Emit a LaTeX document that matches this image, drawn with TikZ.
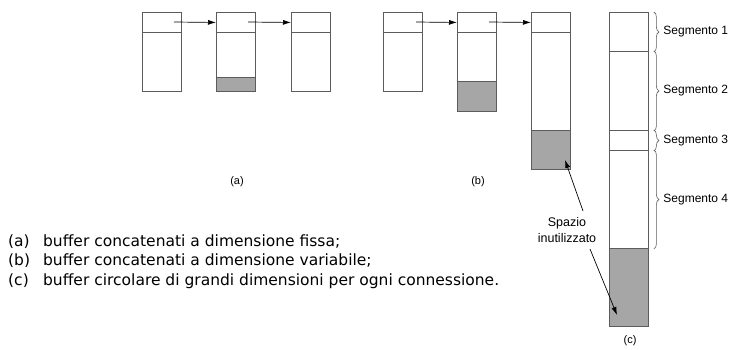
\documentclass[tikz,border=0pt]{standalone}
\usepackage{fontspec}
\setmainfont{Liberation Sans}
\newfontfamily\legendfont{DejaVu Sans}
\usetikzlibrary{arrows.meta,decorations.pathreplacing,positioning}
\definecolor{Edge}{HTML}{5C5C5C}
\definecolor{Waste}{HTML}{A6A6A6}

\begin{document}
\begin{tikzpicture}[x=1pt,y=-1pt,
    cell/.style={draw=Edge,line width=.9pt,minimum width=39pt,inner sep=0pt,anchor=north west},
    hdr/.style={cell,minimum height=20pt},
    used/.style={cell,fill=Waste},
    link/.style={-{Latex[length=8pt,width=5pt]},line width=.7pt},
    seg/.style={decorate,decoration={brace,amplitude=5pt},draw=Edge,line width=.6pt},
    lbl/.style={font=\fontsize{11}{13}\selectfont},
    tag/.style={font=\fontsize{12}{15}\selectfont,anchor=west}]
  \useasboundingbox[fill=white] (0,0) rectangle (733,349);

  % (a) fixed size buffers
  \node[hdr] (a1h) at (142,12) {};
  \node[cell,minimum height=59pt] (a1b) at (142,32) {};
  \node[hdr] (a2h) at (216,12) {};
  \node[cell,minimum height=59pt] (a2b) at (216,32) {};
  \node[used,minimum height=14pt] (a2u) at (216,77) {};
  \node[hdr] (a3h) at (291,12) {};
  \node[cell,minimum height=59pt] (a3b) at (291,32) {};
  \coordinate (a1p) at (174,22);
  \coordinate (a2p) at (248,22);
  \draw[link] (a1p) -- (a2h.west);
  \draw[link] (a2p) -- (a3h.west);
  \node[lbl] (capa) at (237,182) {(a)};

  % (b) variable size buffers
  \node[hdr] (b1h) at (383,12) {};
  \node[cell,minimum height=59pt] (b1b) at (383,32) {};
  \node[hdr] (b2h) at (457,12) {};
  \node[cell,minimum height=79pt] (b2b) at (457,32) {};
  \node[used,minimum height=30pt] (b2u) at (457,81) {};
  \node[hdr] (b3h) at (531,12) {};
  \node[cell,minimum height=137pt] (b3b) at (531,32) {};
  \node[used,minimum height=39pt] (b3u) at (531,130) {};
  \coordinate (b1p) at (416,22);
  \coordinate (b2p) at (489,22);
  \draw[link] (b1p) -- (b2h.west);
  \draw[link] (b2p) -- (b3h.west);
  \node[lbl] (capb) at (478,182) {(b)};

  % (c) one big circular buffer
  \node[cell,minimum height=39pt] (c1) at (609,12) {};
  \node[cell,minimum height=79pt] (c2) at (609,51) {};
  \node[cell,minimum height=20pt] (c3) at (609,130) {};
  \node[cell,minimum height=98pt] (c4) at (609,150) {};
  \node[used,minimum height=78pt] (c5) at (609,248) {};
  \foreach \s in {1,...,4} {
    \draw[seg] ([xshift=5pt]c\s.north east) -- ([xshift=5pt]c\s.south east);
    \node[tag] (seg\s) at ([xshift=11pt]c\s.east) {Segmento \s};
  }
  \node[lbl] (capc) at (630,341) {(c)};

  % wasted space
  \node[align=center,font=\fontsize{12.5}{15.5}\selectfont] (spazio) at (567,230) {Spazio\\inutilizzato};
  \coordinate (holeb) at (565,160);
  \coordinate (holec) at (617,315);
  \coordinate (fromb) at (583,211);
  \coordinate (fromc) at (590,249);
  \draw[link] (fromb) -- (holeb);
  \draw[link] (fromc) -- (holec);

  % legend
  \node[anchor=west,inner sep=0pt,font=\legendfont\fontsize{15.5}{19.5}\selectfont] (legend) at (8,262)
    {\begin{tabular}{@{}l@{\hspace{13pt}}l@{}}
      (a) & buffer concatenati a dimensione fissa;\\
      (b) & buffer concatenati a dimensione variabile;\\
      (c) & buffer circolare di grandi dimensioni per ogni connessione.
    \end{tabular}};
\end{tikzpicture}
\end{document}
